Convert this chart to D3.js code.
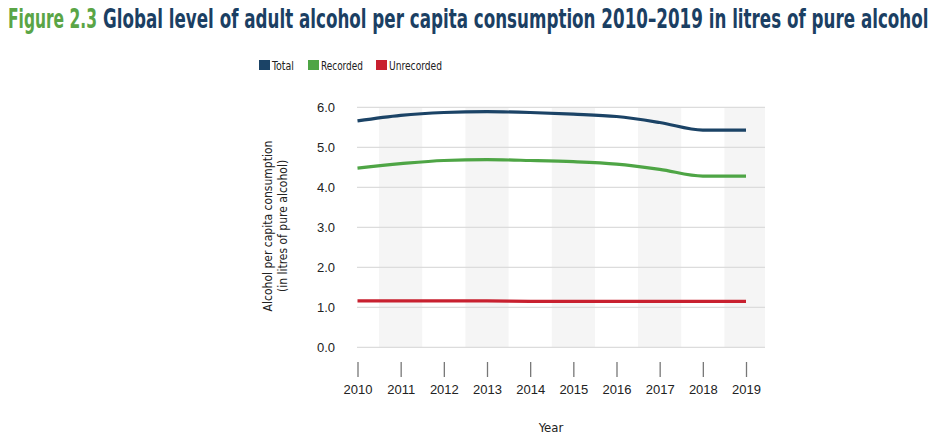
<!DOCTYPE html>
<html>
<head>
<meta charset="utf-8">
<script src="https://cdn.jsdelivr.net/npm/d3@7"></script>
<style>
  html, body { margin: 0; padding: 0; background: #fff; }
  svg { display: block; font-family: "Liberation Sans Narrow", "DejaVu Sans Condensed", "Roboto", sans-serif; }
</style>
</head>
<body>
<svg id="chart" width="938" height="440"></svg>
<script>
const years = [2010, 2011, 2012, 2013, 2014, 2015, 2016, 2017, 2018, 2019];
const total = [5.66, 5.80, 5.87, 5.89, 5.87, 5.83, 5.77, 5.62, 5.43, 5.43];
const recorded = [4.48, 4.59, 4.67, 4.69, 4.67, 4.64, 4.58, 4.45, 4.28, 4.28];
const unrecorded = [1.16, 1.16, 1.16, 1.16, 1.15, 1.15, 1.15, 1.15, 1.15, 1.15];
const yTicks = [0, 1, 2, 3, 4, 5, 6];
const seriesNames = ["Total", "Recorded", "Unrecorded"];
const seriesColors = ["#1b4366", "#4ea545", "#c8202f"];

const svg = d3.select("#chart");

const x = d3.scaleLinear().domain([2010, 2019]).range([357.5, 746]);
const y = d3.scaleLinear().domain([0, 6]).range([347.3, 107.3]);
const plotLeft = 357, plotRight = 765;

// helper: draw text horizontally squeezed to a target width
function fitText(sel, px, py, targetW) {
  const w = sel.node().getComputedTextLength();
  const s = Math.min(1, targetW / w);
  sel.attr("transform", `translate(${px},${py}) scale(${s},1)`);
}

// title
const t1 = svg.append("text")
  .attr("font-size", 27).attr("font-weight", "bold").attr("fill", "#5aa546")
  .text("Figure 2.3");
fitText(t1, 8, 28, 89);
const t2 = svg.append("text")
  .attr("font-size", 27).attr("font-weight", "bold").attr("fill", "#1b3f63")
  .text("Global level of adult alcohol per capita consumption 2010\u20132019 in litres of pure alcohol");
fitText(t2, 103, 28, 826);

// legend
const legendX = [259, 308, 376];
const legendW = [22, 42, 53];
const lg = svg.append("g").selectAll("g").data(seriesNames).join("g")
  .attr("transform", (d, i) => `translate(${legendX[i]},60)`);
lg.append("rect").attr("width", 11).attr("height", 10).attr("fill", (d, i) => seriesColors[i]);
lg.append("text").attr("font-size", 12).attr("fill", "#222")
  .text(d => d)
  .each(function (d, i) { fitText(d3.select(this), 13, 9.5, legendW[i]); });

// bands
const bandYears = years.filter(d => d % 2 === 1);
svg.append("g").selectAll("rect").data(bandYears).join("rect")
  .attr("x", d => x(d - 0.5))
  .attr("width", d => Math.min(x(d + 0.5), plotRight) - x(d - 0.5))
  .attr("y", y(6)).attr("height", y(0) - y(6))
  .attr("fill", "#f5f5f5");

// gridlines
svg.append("g").selectAll("line").data(yTicks).join("line")
  .attr("x1", plotLeft).attr("x2", plotRight)
  .attr("y1", d => y(d)).attr("y2", d => y(d))
  .attr("stroke", "#dcdcdc").attr("stroke-width", 1.2);

// y axis labels
const yAxis = d3.axisLeft(y).tickValues(yTicks).tickFormat(d3.format(".1f")).tickSize(0).tickPadding(0);
const yg = svg.append("g").attr("transform", "translate(335,0)").call(yAxis);
yg.select(".domain").remove();
yg.selectAll("text").attr("font-size", 13).attr("fill", "#222").attr("font-family", null);

// x axis
const xAxis = d3.axisBottom(x).tickValues(years).tickFormat(d3.format("d")).tickSize(15).tickPadding(8);
const xg = svg.append("g").attr("transform", "translate(0,362)").call(xAxis);
xg.select(".domain").remove();
xg.selectAll(".tick line").attr("stroke", "#777").attr("stroke-width", 1.3);
xg.selectAll("text").attr("font-size", 13).attr("fill", "#222").attr("font-family", null);

// axis titles
svg.append("text").attr("x", 551).attr("y", 432).attr("text-anchor", "middle")
  .attr("font-size", 13).attr("fill", "#222").text("Year");
const yt = svg.append("text").attr("transform", "translate(272,226) rotate(-90)")
  .attr("text-anchor", "middle").attr("font-size", 12).attr("fill", "#222");
yt.append("tspan").attr("x", 0).attr("y", 0).text("Alcohol per capita consumption");
yt.append("tspan").attr("x", 0).attr("y", 15).text("(in litres of pure alcohol)");

// lines
const line = d3.line().x((d, i) => x(years[i])).y(d => y(d)).curve(d3.curveMonotoneX);
const allSeries = [total, recorded, unrecorded];
svg.append("g").selectAll("path").data(allSeries).join("path")
  .attr("d", d => line(d))
  .attr("fill", "none")
  .attr("stroke", (d, i) => seriesColors[i])
  .attr("stroke-width", 3.2)
  .attr("stroke-linecap", "butt");
</script>
</body>
</html>
